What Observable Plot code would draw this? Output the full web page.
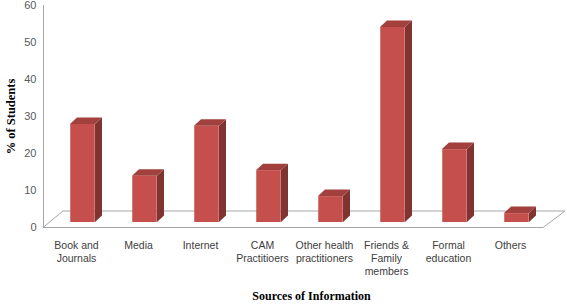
<!DOCTYPE html>
<html>
<head>
<meta charset="utf-8">
<script src="https://cdn.jsdelivr.net/npm/d3@7"></script>
<script src="https://cdn.jsdelivr.net/npm/@observablehq/plot@0.6"></script>
<style>
  html, body { margin: 0; padding: 0; background: #fff; }
  #chart svg { display: block; }
</style>
</head>
<body>
<div id="chart"></div>
<script>
const categories = ["Book and Journals", "Media", "Internet", "CAM Practitioers", "Other health practitioners", "Friends & Family members", "Formal education", "Others"];
const tickLabels = ["Book and\nJournals", "Media", "Internet", "CAM\nPractitioers", "Other health\npractitioners", "Friends &\nFamily\nmembers", "Formal\neducation", "Others"];
const percents = [26.5, 12.5, 26, 14, 7, 52.7, 19.7, 2.4];
const yTicks = [0, 10, 20, 30, 40, 50, 60];

const data = categories.map((c, i) => ({category: c, value: percents[i]}));
const labelOf = new Map(categories.map((c, i) => [c, tickLabels[i]]));

// styling of the fake 3D look
const frontColor = "#c44f4c", sideColor = "#7f3432", topColor = "#a2403d";
const shiftX = 6.5, shiftY = -5, halfW = 12.5, depthX = 7, depthY = 6.5;

function sideAndTop(index, scales, values, dimensions) {
  const g = d3.create("svg:g");
  const bw = scales.x.bandwidth ? scales.x.bandwidth()
    : (dimensions.width - dimensions.marginLeft - dimensions.marginRight) / categories.length;
  for (const i of index) {
    const cx = values.x[i] + bw / 2 + shiftX;
    const left = cx - halfW, right = cx + halfW;
    const top = Math.min(values.y1[i], values.y2[i]) + shiftY;
    const bottom = Math.max(values.y1[i], values.y2[i]) + shiftY;
    g.append("path")
      .attr("d", `M${right},${bottom}L${right + depthX},${bottom - depthY}L${right + depthX},${top - depthY}L${right},${top}Z`)
      .attr("fill", sideColor);
    g.append("path")
      .attr("d", `M${left},${top}L${right},${top}L${right + depthX},${top - depthY}L${left + depthX},${top - depthY}Z`)
      .attr("fill", topColor);
  }
  return g.node();
}

function floor(index, scales, values, dimensions) {
  const y0 = scales.y(0) + 0.5;
  const x0 = dimensions.marginLeft, x1 = dimensions.width - dimensions.marginRight;
  return d3.create("svg:path")
    .attr("d", `M${x0},${y0}L${x1},${y0}L${x1 + 22},${y0 - 16.5}L${x0 + 20},${y0 - 16.5}Z`)
    .attr("fill", "none")
    .attr("stroke", "#a6a6a6")
    .attr("stroke-width", 1)
    .node();
}

const chart = Plot.plot({
  width: 567,
  height: 304,
  marginLeft: 43,
  marginRight: 24,
  marginTop: 5,
  marginBottom: 77,
  style: {fontFamily: "'Liberation Sans', Arial, sans-serif", background: "#fff"},
  x: {type: "band", domain: categories, padding: 0, label: null},
  y: {domain: [0, 60], label: null},
  marks: [
    Plot.ruleY([0], {render: floor}),
    Plot.frame({anchor: "left", stroke: "#a6a6a6"}),
    Plot.axisY({ticks: yTicks, tickSize: 0, tickPadding: 7, fontSize: 11, fill: "#595959", label: null}),
    Plot.axisX({tickSize: 0, tickPadding: 12.5, fontSize: 10.5, fill: "#404040", lineHeight: 1.22, tickFormat: d => labelOf.get(d), label: null}),
    Plot.barY(data, {x: "category", y: "value", fill: frontColor, insetLeft: 18.75, insetRight: 18.75, dx: shiftX, dy: shiftY}),
    Plot.barY(data, {x: "category", y: "value", render: sideAndTop}),
    Plot.text(["% of Students"], {frameAnchor: "left", textAnchor: "middle", lineAnchor: "middle", rotate: -90, dx: -33, fontFamily: "'Liberation Serif', 'Times New Roman', serif", fontWeight: "bold", fontSize: 12.5, fill: "#000"}),
    Plot.text(["Sources of Information"], {frameAnchor: "bottom", textAnchor: "middle", lineAnchor: "middle", dx: 18, dy: 69, fontFamily: "'Liberation Serif', 'Times New Roman', serif", fontWeight: "bold", fontSize: 12, fill: "#000"})
  ]
});
document.getElementById("chart").appendChild(chart);
</script>
</body>
</html>
